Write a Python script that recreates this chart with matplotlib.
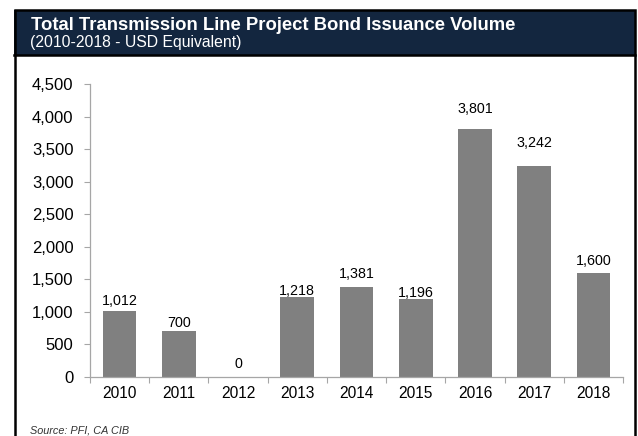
import matplotlib
matplotlib.use('Agg')
import matplotlib.pyplot as plt
from matplotlib.patches import Rectangle
from matplotlib.lines import Line2D
from matplotlib.ticker import FuncFormatter

years = ['2010', '2011', '2012', '2013', '2014', '2015', '2016', '2017', '2018']
volumes = [1012, 700, 0, 1218, 1381, 1196, 3801, 3242, 1600]
y_ticks = [0, 500, 1000, 1500, 2000, 2500, 3000, 3500, 4000, 4500]
# gap (px) between bar top and label baseline, as placed in the original
label_gap = [6, 4, 9, 2, 9, 2, 16, 19, 8]

plt.rcParams['font.family'] = ['Liberation Sans', 'DejaVu Sans']

W, H = 638, 436
fig = plt.figure(figsize=(W / 100, H / 100), dpi=100)
fig.patch.set_facecolor('white')

# header box, separator and outer frame
fig.patches.append(Rectangle((14 / W, 1 - 55.5 / H), 621 / W, 45 / H,
                             transform=fig.transFigure, facecolor='#13263f',
                             edgecolor='none', zorder=0))
fig.lines.append(Line2D([14 / W, 635 / W], [1 - 55.5 / H, 1 - 55.5 / H],
                        transform=fig.transFigure, color='black', lw=1.8))
fig.patches.append(Rectangle((14.5 / W, -0.05), 620 / W, 1.05 - 10.2 / H,
                             transform=fig.transFigure, facecolor='none',
                             edgecolor='black', linewidth=1.8, zorder=5))
fig.text(31 / W, 1 - 30 / H, 'Total Transmission Line Project Bond Issuance Volume',
         color='white', fontsize=13.3, fontweight='bold', va='baseline', ha='left')
fig.text(30 / W, 1 - 47.5 / H, '(2010-2018 - USD Equivalent)',
         color='white', fontsize=11.3, va='baseline', ha='left')
fig.text(30.5 / W, 1 - 433 / H, 'Source: PFI, CA CIB', color='#333333',
         fontsize=7.8, style='italic', va='baseline', ha='left')

ax = fig.add_axes([90 / W, (H - 376.5) / H, (623 - 90) / W, (376.5 - 84) / H])
x = range(len(years))
ax.bar(x, volumes, width=0.57, color='#808080', zorder=2)
for xi, v, g in zip(x, volumes, label_gap):
    ax.annotate(f'{v:,}', (xi, v), xytext=(0, g * 0.72), textcoords='offset points',
                ha='center', va='baseline', fontsize=10.3)

ax.set_xlim(-0.5, len(years) - 0.5)
ax.set_ylim(0, 4500)
ax.set_yticks(y_ticks)
ax.yaxis.set_major_formatter(FuncFormatter(lambda v, p: f'{int(v):,}'))
ax.set_xticks([i + 0.5 for i in range(-1, len(years))], minor=False)
ax.set_xticklabels([])
ax.set_xticks(list(x), minor=True)
ax.set_xticklabels(years, minor=True)
ax.tick_params(axis='x', which='minor', length=0, labelsize=11.2, pad=7)
ax.tick_params(axis='x', which='major', length=4, color='#a6a6a6', direction='out')
ax.tick_params(axis='y', length=4, color='#a6a6a6', labelsize=12, pad=8)
for s in ['top', 'right']:
    ax.spines[s].set_visible(False)
for s in ['left', 'bottom']:
    ax.spines[s].set_color('#a6a6a6')
    ax.spines[s].set_linewidth(0.9)

fig.savefig('out.png', dpi=100)
